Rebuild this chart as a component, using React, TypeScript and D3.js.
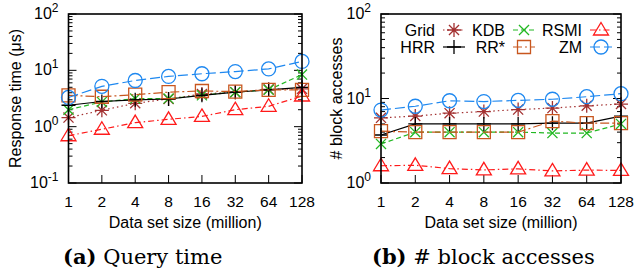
import React from 'react';
import * as d3 from 'd3';

// data set sizes (million)
const sizes = [1, 2, 4, 8, 16, 32, 64, 128];
const sizeLabels = ['1', '2', '4', '8', '16', '32', '64', '128'];

// (a) response time in microseconds
const timeGrid = [1.45, 1.95, 2.6, 3.1, 3.8, 4.1, 4.6, 4.7];
const timeKDB = [2.0, 2.75, 3.15, 3.15, 3.6, 4.1, 4.5, 8.4];
const timeRSMI = [0.69, 0.9, 1.18, 1.35, 1.52, 2.0, 2.3, 3.5];
const timeHRR = [2.4, 2.8, 3.0, 3.1, 3.6, 4.1, 4.5, 5.0];
const timeRRstar = [3.6, 3.4, 3.7, 4.1, 4.3, 4.2, 4.5, 4.5];
const timeZM = [3.3, 5.2, 6.6, 7.8, 8.7, 9.5, 10.6, 14.4];

// (b) number of block accesses
const blkGrid = [5.9, 6.2, 6.7, 7.0, 7.4, 7.7, 8.2, 8.6];
const blkKDB = [2.9, 4.0, 4.0, 4.0, 4.0, 3.9, 3.9, 5.0];
const blkRSMI = [1.6, 1.62, 1.48, 1.43, 1.47, 1.39, 1.42, 1.41];
const blkHRR = [3.7, 5.0, 5.0, 5.0, 5.0, 5.1, 5.1, 6.2];
const blkRRstar = [4.1, 4.0, 4.0, 4.0, 4.0, 5.4, 5.1, 5.1];
const blkZM = [7.3, 8.1, 9.4, 9.2, 9.5, 9.8, 10.5, 11.4];

type Marker = 'star' | 'plus' | 'cross' | 'square' | 'triangle' | 'circle';

interface Style {
  name: string;
  color: string;
  dash: string;
  marker: Marker;
}

const styles: Style[] = [
  { name: 'Grid', color: '#a33131', dash: '1.5 3', marker: 'star' },
  { name: 'KDB', color: '#22b822', dash: '5 3', marker: 'cross' },
  { name: 'RSMI', color: '#ff1a1a', dash: '6 3 1.5 3', marker: 'triangle' },
  { name: 'HRR', color: '#000000', dash: '', marker: 'plus' },
  { name: 'RR*', color: '#c8561e', dash: '9 3 2 3', marker: 'square' },
  { name: 'ZM', color: '#1e88f0', dash: '10 4', marker: 'circle' },
];

const timeSeries = [timeGrid, timeKDB, timeRSMI, timeHRR, timeRRstar, timeZM];
const blkSeries = [blkGrid, blkKDB, blkRSMI, blkHRR, blkRRstar, blkZM];

const SANS = "'Liberation Sans', Arial, sans-serif";
const SERIF = "'DejaVu Serif', serif";
const R = 7;

function markerPath(m: Marker, x: number, y: number): string {
  const r = R;
  const d = r * 0.72;
  switch (m) {
    case 'plus':
      return `M${x - r},${y}H${x + r}M${x},${y - r}V${y + r}`;
    case 'cross':
      return `M${x - d},${y - d}L${x + d},${y + d}M${x - d},${y + d}L${x + d},${y - d}`;
    case 'star':
      return `M${x - r},${y}H${x + r}M${x},${y - r}V${y + r}M${x - d},${y - d}L${x + d},${y + d}M${x - d},${y + d}L${x + d},${y - d}`;
    case 'square':
      return `M${x - 6.5},${y - 6.5}h13v13h-13Z`;
    case 'triangle':
      return `M${x},${y - 7.5}L${x + 7.5},${y + 5}L${x - 7.5},${y + 5}Z`;
    case 'circle':
      return `M${x - r},${y}a${r},${r} 0 1,0 ${2 * r},0a${r},${r} 0 1,0 ${-2 * r},0Z`;
  }
}

interface PanelProps {
  left: number;
  right: number;
  top: number;
  bottom: number;
  yMin: number;
  yMax: number;
  series: number[][];
  yLabel: string;
  yLabelX: number;
  legend?: boolean;
}

const Panel: React.FC<PanelProps> = ({ left, right, top, bottom, yMin, yMax, series, yLabel, yLabelX, legend }) => {
  const x = d3.scaleLog().base(2).domain([1, 128]).range([left, right]);
  const y = d3.scaleLog().domain([yMin, yMax]).range([bottom, top]);
  const line = d3.line<number>()
    .x((_, i) => x(sizes[i]))
    .y(d => y(d));

  const majors: number[] = [];
  const minors: number[] = [];
  for (let e = Math.log10(yMin); e <= Math.log10(yMax); e++) {
    majors.push(Math.pow(10, e));
    if (e < Math.log10(yMax)) {
      for (let k = 2; k <= 9; k++) minors.push(k * Math.pow(10, e));
    }
  }

  return (
    <g>
      {/* ticks */}
      {majors.map(v => (
        <g key={'M' + v}>
          <line x1={left} x2={left + 8} y1={y(v)} y2={y(v)} stroke="#000" strokeWidth={1} />
          <line x1={right} x2={right - 8} y1={y(v)} y2={y(v)} stroke="#000" strokeWidth={1} />
          <text x={left - 10} y={y(v) + 5} textAnchor="end" fontFamily={SANS} fontSize={16}>
            10<tspan dy={-7} fontSize={12}>{Math.round(Math.log10(v))}</tspan>
          </text>
        </g>
      ))}
      {minors.map(v => (
        <g key={'m' + v}>
          <line x1={left} x2={left + 4} y1={y(v)} y2={y(v)} stroke="#000" strokeWidth={1} />
          <line x1={right} x2={right - 4} y1={y(v)} y2={y(v)} stroke="#000" strokeWidth={1} />
        </g>
      ))}
      {sizes.map((s, i) => (
        <g key={'x' + s}>
          <line x1={x(s)} x2={x(s)} y1={bottom} y2={bottom - 8} stroke="#000" strokeWidth={1} />
          <text x={x(s)} y={bottom + 24} textAnchor="middle" fontFamily={SANS} fontSize={15.5}>{sizeLabels[i]}</text>
        </g>
      ))}

      {/* series */}
      {series.map((vals, si) => {
        const st = styles[si];
        return (
          <g key={st.name}>
            <path d={line(vals) || ''} fill="none" stroke={st.color} strokeWidth={1.2} strokeDasharray={st.dash || undefined} />
            {vals.map((v, i) => (
              <path key={i} d={markerPath(st.marker, x(sizes[i]), y(v))} fill="none" stroke={st.color} strokeWidth={1.3} />
            ))}
          </g>
        );
      })}

      {/* legend */}
      {legend && styles.map((st, i) => {
        const col = i % 3;
        const row = Math.floor(i / 3);
        const textRight = [435, 505, 582][col];
        const ly = 30 + row * 17;
        const lx0 = textRight + 8;
        const lx1 = textRight + 30;
        return (
          <g key={'lg' + st.name}>
            <text x={textRight} y={ly + 6} textAnchor="end" fontFamily={SANS} fontSize={16}>{st.name}</text>
            <line x1={lx0} x2={lx1} y1={ly} y2={ly} stroke={st.color} strokeWidth={1.2} strokeDasharray={st.dash || undefined} />
            <path d={markerPath(st.marker, (lx0 + lx1) / 2, ly)} fill="none" stroke={st.color} strokeWidth={1.3} />
          </g>
        );
      })}

      <rect x={left} y={top} width={right - left} height={bottom - top} fill="none" stroke="#000" strokeWidth={1.6} />

      <text x={(left + right) / 2} y={bottom + 45} textAnchor="middle" fontFamily={SANS} fontSize={16}>Data set size (million)</text>
      <text transform={`translate(${yLabelX},${(top + bottom) / 2}) rotate(-90)`} dy="0.35em" textAnchor="middle" fontFamily={SANS} fontSize={16}>{yLabel}</text>
    </g>
  );
};

export default function App() {
  return (
    <svg width={636} height={273} style={{ position: 'absolute', left: 0, top: 0, background: '#fff' }}>
      <Panel left={68.5} right={302} top={14} bottom={183} yMin={0.1} yMax={100}
        series={timeSeries} yLabel="Response time (μs)" yLabelX={15} />
      <Panel left={381} right={621} top={14} bottom={183} yMin={1} yMax={100}
        series={blkSeries} yLabel="# block accesses" yLabelX={336} legend />
      <text x={63} y={264} fontFamily={SERIF} fontSize={21}>
        <tspan fontWeight="bold">(a)</tspan> Query time
      </text>
      <text x={372} y={264} fontFamily={SERIF} fontSize={21}>
        <tspan fontWeight="bold">(b)</tspan> # block accesses
      </text>
    </svg>
  );
}
